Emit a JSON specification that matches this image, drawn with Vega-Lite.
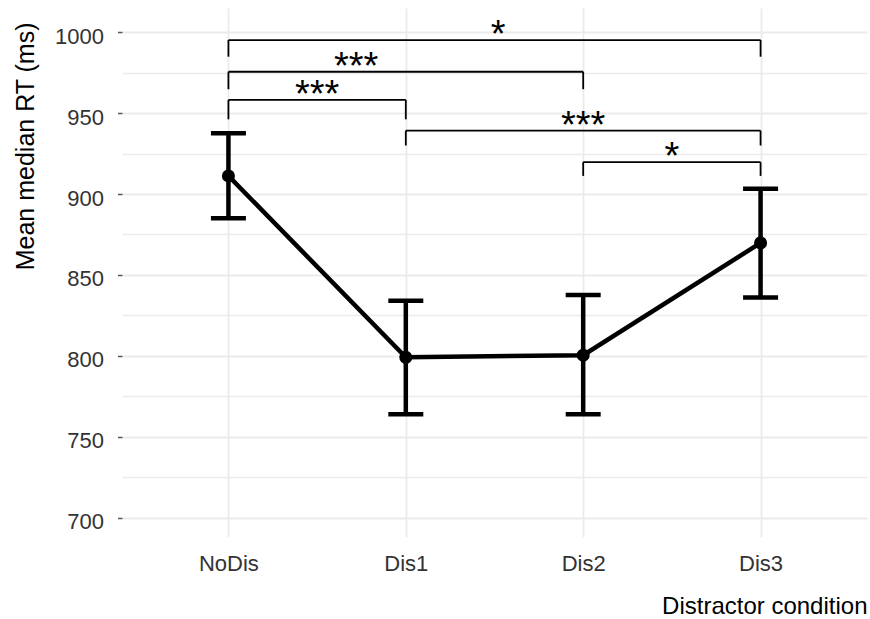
{
  "$schema": "https://vega.github.io/schema/vega-lite/v6.json",
  "width": 745,
  "height": 529,
  "autosize": {"type": "none"},
  "padding": {"left": 122, "top": 8, "right": 3, "bottom": 82},
  "background": "white",
  "config": {
    "view": {"stroke": null},
    "font": "Liberation Sans"
  },
  "datasets": {
    "rt": [
      {"condition": "NoDis", "pos": 1, "mean": 911.2, "lower": 885.0, "upper": 937.6},
      {"condition": "Dis1", "pos": 2, "mean": 799.1, "lower": 763.9, "upper": 834.1},
      {"condition": "Dis2", "pos": 3, "mean": 800.4, "lower": 763.9, "upper": 837.6},
      {"condition": "Dis3", "pos": 4, "mean": 869.8, "lower": 836.0, "upper": 903.3}
    ],
    "comparisons": [
      {"from": 1, "to": 4, "y": 995.2, "tip": 984.9, "label": "*", "labelPos": 2.52},
      {"from": 1, "to": 3, "y": 975.6, "tip": 964.8, "label": "***", "labelPos": 1.72},
      {"from": 1, "to": 2, "y": 958.2, "tip": 946.2, "label": "***", "labelPos": 1.5},
      {"from": 2, "to": 4, "y": 939.2, "tip": 930.0, "label": "***", "labelPos": 3.0},
      {"from": 3, "to": 4, "y": 919.7, "tip": 911.2, "label": "*", "labelPos": 3.5}
    ]
  },
  "layer": [
    {
      "data": {"name": "rt"},
      "mark": {"type": "line", "color": "black", "strokeWidth": 4.5},
      "encoding": {
        "x": {
          "field": "pos",
          "type": "quantitative",
          "scale": {"domain": [0.4, 4.6], "nice": false, "zero": false},
          "axis": {
            "values": [1, 2, 3, 4],
            "labelExpr": "['', 'NoDis', 'Dis1', 'Dis2', 'Dis3'][datum.value]",
            "title": "Distractor condition",
            "domain": false,
            "ticks": false,
            "tickSize": 0,
            "grid": true,
            "gridColor": "#EBEBEB",
            "gridWidth": 1.8,
            "labelFontSize": 22,
            "labelColor": "#333333",
            "labelPadding": 16,
            "titleFontSize": 24,
            "titleFontWeight": "normal",
            "titleColor": "black",
            "titleAnchor": "end",
            "titleAlign": "right",
            "titleBaseline": "alphabetic",
            "titleY": 76
          }
        },
        "y": {
          "field": "mean",
          "type": "quantitative",
          "scale": {"domain": [688, 1015], "nice": false, "zero": false},
          "axis": {
            "values": [700, 725, 750, 775, 800, 825, 850, 875, 900, 925, 950, 975, 1000],
            "format": "d",
            "labelExpr": "datum.value % 50 === 0 ? datum.label : ''",
            "title": "Mean median RT (ms)",
            "domain": false,
            "grid": true,
            "gridColor": "#EBEBEB",
            "gridWidth": {"condition": {"test": "datum.value % 50 === 0", "value": 2}, "value": 1.3},
            "tickOpacity": {"condition": {"test": "datum.value % 50 === 0", "value": 1}, "value": 0},
            "tickSize": 4.5,
            "tickWidth": 1.5,
            "tickColor": "#555555",
            "labelFontSize": 22,
            "labelColor": "#333333",
            "labelPadding": 14,
            "labelOffset": 4,
            "titleFontSize": 25,
            "titleFontWeight": "normal",
            "titleColor": "black",
            "titleAngle": -90,
            "titleAnchor": "end",
            "titleAlign": "right",
            "titleBaseline": "alphabetic",
            "titleX": -89,
            "titleY": 14
          }
        }
      }
    },
    {
      "data": {"name": "rt"},
      "mark": {"type": "rule", "color": "black", "strokeWidth": 4.5},
      "encoding": {
        "x": {"field": "pos", "type": "quantitative"},
        "y": {"field": "lower", "type": "quantitative"},
        "y2": {"field": "upper"}
      }
    },
    {
      "data": {"name": "rt"},
      "mark": {"type": "tick", "orient": "horizontal", "color": "black", "size": 35, "thickness": 4.5, "opacity": 1},
      "encoding": {
        "x": {"field": "pos", "type": "quantitative"},
        "y": {"field": "lower", "type": "quantitative"}
      }
    },
    {
      "data": {"name": "rt"},
      "mark": {"type": "tick", "orient": "horizontal", "color": "black", "size": 35, "thickness": 4.5, "opacity": 1},
      "encoding": {
        "x": {"field": "pos", "type": "quantitative"},
        "y": {"field": "upper", "type": "quantitative"}
      }
    },
    {
      "data": {"name": "rt"},
      "mark": {"type": "point", "filled": true, "shape": "circle", "color": "black", "size": 170, "opacity": 1},
      "encoding": {
        "x": {"field": "pos", "type": "quantitative"},
        "y": {"field": "mean", "type": "quantitative"}
      }
    },
    {
      "data": {"name": "comparisons"},
      "mark": {"type": "rule", "color": "black", "strokeWidth": 1.8},
      "encoding": {
        "x": {"field": "from", "type": "quantitative"},
        "x2": {"field": "to"},
        "y": {"field": "y", "type": "quantitative"}
      }
    },
    {
      "data": {"name": "comparisons"},
      "mark": {"type": "rule", "color": "black", "strokeWidth": 1.8},
      "encoding": {
        "x": {"field": "from", "type": "quantitative"},
        "y": {"field": "tip", "type": "quantitative"},
        "y2": {"field": "y"}
      }
    },
    {
      "data": {"name": "comparisons"},
      "mark": {"type": "rule", "color": "black", "strokeWidth": 1.8},
      "encoding": {
        "x": {"field": "to", "type": "quantitative"},
        "y": {"field": "tip", "type": "quantitative"},
        "y2": {"field": "y"}
      }
    },
    {
      "data": {"name": "comparisons"},
      "mark": {"type": "text", "fontSize": 38, "color": "black", "baseline": "middle", "align": "center", "dy": -4},
      "encoding": {
        "x": {"field": "labelPos", "type": "quantitative"},
        "y": {"field": "y", "type": "quantitative"},
        "text": {"field": "label"}
      }
    }
  ]
}
